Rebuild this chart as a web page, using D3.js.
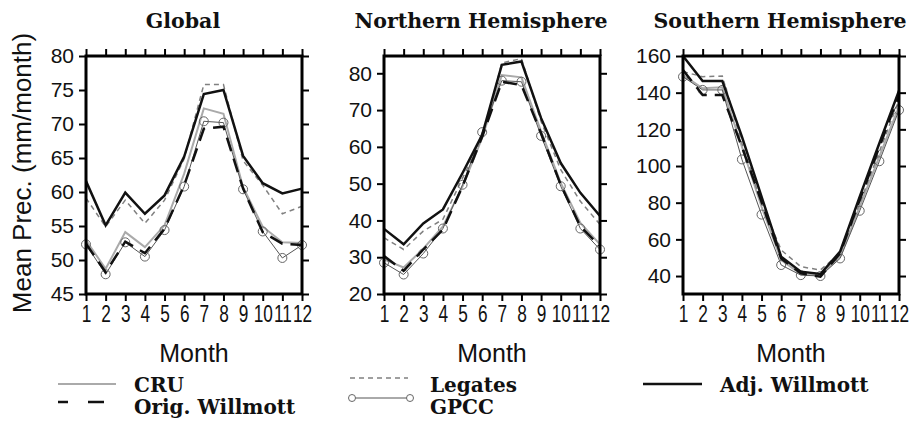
<!DOCTYPE html>
<html>
<head>
<meta charset="utf-8">
<script src="https://cdn.jsdelivr.net/npm/d3@7"></script>
<style>
html,body{margin:0;padding:0;background:#fff;}
svg{display:block;}
</style>
</head>
<body>
<svg id="chart" width="911" height="428"></svg>
<script>
// ---------- data ----------
const months = [1,2,3,4,5,6,7,8,9,10,11,12];
const panelTitles = ["Global", "Northern Hemisphere", "Southern Hemisphere"];
const seriesNames = ["CRU", "Orig. Willmott", "Legates", "GPCC", "Adj. Willmott"];

const globalCRU     = [52.9, 48.7, 54.1, 51.9, 55.1, 62.7, 72.3, 71.5, 60.7, 54.9, 52.6, 52.5];
const globalOrigW   = [52.4, 48.2, 52.7, 51.0, 54.6, 61.0, 69.3, 69.6, 60.5, 54.1, 52.4, 52.2];
const globalLegates = [59.1, 54.9, 58.8, 55.4, 58.8, 64.9, 75.8, 75.8, 64.6, 61.0, 56.8, 57.9];
const globalGPCC    = [52.3, 47.9, 52.6, 50.5, 54.4, 60.8, 70.4, 70.2, 60.4, 54.2, 50.3, 52.2];
const globalAdjW    = [61.6, 55.1, 59.9, 56.8, 59.5, 65.2, 74.4, 75.0, 65.3, 61.3, 59.8, 60.5];

const nhCRU     = [29.4, 27.2, 32.3, 38.4, 49.3, 62.4, 79.5, 78.9, 64.2, 50.2, 39.3, 33.5];
const nhOrigW   = [30.3, 26.3, 32.1, 37.5, 49.3, 62.8, 77.7, 76.8, 63.7, 49.7, 38.4, 33.0];
const nhLegates = [35.3, 32.1, 37.1, 40.3, 51.5, 62.4, 82.8, 84.0, 66.9, 53.8, 45.2, 38.9];
const nhGPCC    = [28.5, 25.3, 31.0, 37.8, 49.7, 64.0, 78.0, 77.7, 63.0, 49.3, 37.8, 32.1];
const nhAdjW    = [37.7, 33.5, 39.2, 43.0, 52.9, 63.3, 82.3, 83.2, 67.8, 55.6, 47.5, 41.2];

const shCRU     = [149.6, 142.4, 142.9, 110.5, 77.8, 48.7, 41.1, 40.5, 50.5, 77.8, 105.1, 132.4];
const shOrigW   = [152.4, 138.7, 138.7, 110.5, 80.5, 49.6, 41.5, 39.6, 52.4, 81.5, 110.5, 138.7];
const shLegates = [151.5, 148.7, 149.1, 112.4, 79.6, 54.2, 45.1, 43.3, 52.4, 79.6, 107.8, 136.0];
const shGPCC    = [148.7, 141.5, 141.5, 103.6, 73.5, 46.0, 40.5, 40.0, 49.6, 75.6, 102.6, 130.5];
const shAdjW    = [160.0, 146.4, 146.4, 116.0, 83.3, 50.5, 42.4, 41.1, 53.3, 83.3, 112.4, 141.1];

const yTicksGlobal = [45, 50, 55, 60, 65, 70, 75, 80];
const yTicksNH     = [20, 30, 40, 50, 60, 70, 80];
const yTicksSH     = [40, 60, 80, 100, 120, 140, 160];
const yDomainGlobal = [45, 80];
const yDomainNH     = [20, 84.7];
const yDomainSH     = [30.2, 160];

const xLabel = "Month";
const yLabel = "Mean Prec. (mm/month)";

// ---------- styles ----------
const styles = {
  "CRU":            {stroke: "#aaaaaa", width: 2,   dash: null},
  "Legates":        {stroke: "#808080", width: 1.5, dash: "5,4"},
  "GPCC":           {stroke: "#555555", width: 1,   dash: null, circles: true},
  "Orig. Willmott": {stroke: "#111111", width: 2.5, dash: "14,8"},
  "Adj. Willmott":  {stroke: "#111111", width: 2.5, dash: null}
};
const drawOrder = ["CRU", "Legates", "GPCC", "Orig. Willmott", "Adj. Willmott"];

const panels = [
  {title: panelTitles[0], left: 86,  ticks: yTicksGlobal, domain: yDomainGlobal,
   data: {"CRU": globalCRU, "Orig. Willmott": globalOrigW, "Legates": globalLegates, "GPCC": globalGPCC, "Adj. Willmott": globalAdjW}},
  {title: panelTitles[1], left: 384, ticks: yTicksNH, domain: yDomainNH,
   data: {"CRU": nhCRU, "Orig. Willmott": nhOrigW, "Legates": nhLegates, "GPCC": nhGPCC, "Adj. Willmott": nhAdjW}},
  {title: panelTitles[2], left: 683, ticks: yTicksSH, domain: yDomainSH,
   data: {"CRU": shCRU, "Orig. Willmott": shOrigW, "Legates": shLegates, "GPCC": shGPCC, "Adj. Willmott": shAdjW}}
];

const PW = 216, PTOP = 56, PH = 238;
const svg = d3.select("#chart");
const sans = "'Liberation Sans', Arial, Helvetica, sans-serif";
const serif = "'DejaVu Serif', serif";

panels.forEach(p => {
  const g = svg.append("g").attr("transform", `translate(${p.left},${PTOP})`);
  const x = d3.scaleLinear().domain([1, 12]).range([0, PW]);
  const y = d3.scaleLinear().domain(p.domain).range([PH, 0]);

  const ax = [
    {a: d3.axisBottom(x).tickValues(months).tickFormat(d3.format("d")), t: `translate(0,${PH})`, size: 23, squeeze: 0.75},
    {a: d3.axisTop(x).tickValues(months).tickFormat(""), t: `translate(0,0)`},
    {a: d3.axisLeft(y).tickValues(p.ticks).tickFormat(d3.format("d")), t: `translate(0,0)`, size: 21},
    {a: d3.axisRight(y).tickValues(p.ticks).tickFormat(""), t: `translate(${PW},0)`}
  ];
  ax.forEach(o => {
    const ag = g.append("g").attr("transform", o.t)
      .call(o.a.tickSizeInner(7).tickSizeOuter(0).tickPadding(5));
    ag.select(".domain").remove();
    ag.selectAll(".tick line").attr("stroke", "#000").attr("stroke-width", 2);
    const tt = ag.selectAll(".tick text").attr("font-family", sans).attr("font-size", o.size || 21).attr("fill", "#111");
    if (o.squeeze) tt.attr("transform", `scale(${o.squeeze},1)`);
  });

  const line = d3.line().x((d, i) => x(months[i])).y(d => y(d));
  drawOrder.forEach(name => {
    const s = styles[name];
    const vals = p.data[name];
    g.append("path").datum(vals)
      .attr("d", line).attr("fill", "none")
      .attr("stroke", s.stroke).attr("stroke-width", s.width)
      .attr("stroke-dasharray", s.dash)
      .attr("stroke-linejoin", "miter");
    if (s.circles) {
      g.selectAll(null).data(vals).enter().append("circle")
        .attr("cx", (d, i) => x(months[i])).attr("cy", d => y(d))
        .attr("r", 4.5).attr("fill", "none").attr("stroke", "#666").attr("stroke-width", 1);
    }
  });

  g.append("rect").attr("x", 0).attr("y", 0).attr("width", PW).attr("height", PH)
    .attr("fill", "none").attr("stroke", "#000").attr("stroke-width", 3);

  g.append("text").attr("x", PW / 2 - 11).attr("y", 28 - PTOP)
    .attr("text-anchor", "middle").attr("font-family", serif)
    .attr("font-weight", "bold").attr("font-size", 20.5).attr("fill", "#111")
    .text(p.title);

  g.append("text").attr("x", PW / 2).attr("y", 362 - PTOP)
    .attr("text-anchor", "middle").attr("font-family", sans)
    .attr("font-size", 25).attr("fill", "#111").text(xLabel);
});

svg.append("text").attr("transform", `translate(31,${PTOP + PH / 2 - 2}) rotate(-90)`)
  .attr("text-anchor", "middle").attr("font-family", sans)
  .attr("font-size", 26).attr("fill", "#111").text(yLabel);

// ---------- legend ----------
const legendItems = [
  {name: seriesNames[0], x1: 58,  x2: 116, ly: 384, tx: 134, ty: 392},
  {name: seriesNames[1], x1: 58,  x2: 116, ly: 402, tx: 134, ty: 414},
  {name: seriesNames[2], x1: 350, x2: 408, ly: 378, tx: 430, ty: 392},
  {name: seriesNames[3], x1: 352, x2: 410, ly: 398, tx: 430, ty: 414},
  {name: seriesNames[4], x1: 643, x2: 702, ly: 384, tx: 720, ty: 392}
];
const lg = svg.append("g");
legendItems.forEach(it => {
  const s = styles[it.name];
  lg.append("line").attr("x1", it.x1).attr("x2", it.x2).attr("y1", it.ly).attr("y2", it.ly)
    .attr("stroke", s.stroke).attr("stroke-width", s.width)
    .attr("stroke-dasharray", it.name === "Orig. Willmott" ? "10,20,16,20" : s.dash);
  if (s.circles) {
    [it.x1, it.x2].forEach(cx => lg.append("circle").attr("cx", cx).attr("cy", it.ly)
      .attr("r", 3.5).attr("fill", "#fff").attr("stroke", "#666").attr("stroke-width", 1));
  }
  lg.append("text").attr("x", it.tx).attr("y", it.ty)
    .attr("font-family", serif).attr("font-weight", "bold")
    .attr("font-size", 20).attr("fill", "#111").text(it.name);
});
</script>
</body>
</html>
